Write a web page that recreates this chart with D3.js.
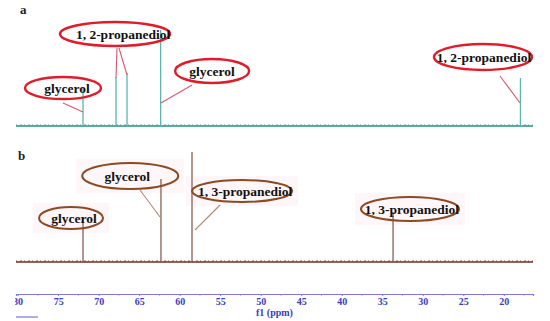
<!DOCTYPE html>
<html>
<head>
<meta charset="utf-8">
<script src="https://cdn.jsdelivr.net/npm/d3@7"></script>
<style>
  body { margin: 0; background: #fff; }
  svg { display: block; }
  .lbl { font-family: "Liberation Serif", serif; font-weight: bold; font-size: 13.5px; fill: #111; }
  .panel { font-family: "Liberation Serif", serif; font-weight: bold; font-size: 13px; fill: #222; }
  .tick text { font-family: "Liberation Serif", serif; font-weight: bold; font-size: 10px; fill: #3b3bc4; }
</style>
</head>
<body>
<div id="chart"></div>
<script>
// peaks, ppm and height (arbitrary units)
const peaksA = [
  { ppm: 71.93, h: 38 },
  { ppm: 67.86, h: 49 },
  { ppm: 66.50, h: 53 },
  { ppm: 62.35, h: 96 },
  { ppm: 17.95, h: 48 }
];
const peaksB = [
  { ppm: 71.93, h: 45 },
  { ppm: 62.31, h: 83 },
  { ppm: 58.48, h: 110 },
  { ppm: 33.67, h: 50 }
];
const majorTicks = [80, 75, 70, 65, 60, 55, 50, 45, 40, 35, 30, 25, 20];
const minorTicks = [77.5, 72.5, 67.5, 62.5, 57.5, 52.5, 47.5, 42.5, 37.5, 32.5, 27.5, 22.5, 17.5];

// callouts: ellipse centre in data units, pointer lines from/to in data units
const notesA = [
  { text: "1, 2-propanediol", ppm: 67.98, h: 92, rx: 55, ry: 12, dx: 8,
    ptr: [[67.74, 78, 67.86, 48], [67.49, 78, 66.50, 51]] },
  { text: "glycerol", ppm: 74.4, h: 38, rx: 38, ry: 11, dx: 4,
    ptr: [[74.40, 23, 71.93, 14]] },
  { text: "glycerol", ppm: 56.0, h: 55, rx: 37, ry: 12, dx: 0,
    ptr: [[58.48, 41, 62.31, 23]] },
  { text: "1, 2-propanediol", ppm: 22.57, h: 69, rx: 49, ry: 13, dx: 1,
    ptr: [[20.47, 50, 18.00, 23]] }
];
const notesB = [
  { text: "glycerol", ppm: 73.41, h: 44, rx: 32, ry: 11, dx: 3, ptr: [] },
  { text: "glycerol", ppm: 66.1, h: 86, rx: 48, ry: 13, dx: -3,
    ptr: [[64.90, 72, 62.43, 45]] },
  { text: "1, 3-propanediol", ppm: 52.3, h: 71, rx: 50, ry: 11, dx: 3,
    ptr: [[55.02, 57, 58.11, 32]] },
  { text: "1, 3-propanediol", ppm: 31.58, h: 53, rx: 49, ry: 12, dx: 2, ptr: [] }
];

const W = 550, H = 321;
const svg = d3.select("#chart").append("svg")
  .attr("width", W)
  .attr("height", H);

svg.append("clipPath").attr("id", "clip")
  .append("rect").attr("x", 15).attr("y", 0).attr("width", W).attr("height", H);

const x = d3.scaleLinear().domain([80.2, 16.4]).range([16, 533]);
const yA = d3.scaleLinear().domain([0, 100]).range([126, 26]);
const yB = d3.scaleLinear().domain([0, 100]).range([262, 162]);

function drawPanel(peaks, notes, y, c) {
  const g = svg.append("g");

  // faint pink patches behind the labels (only panel b has them)
  if (c.patch) {
    g.selectAll(".patch").data(notes).enter().append("rect")
      .attr("x", d => x(d.ppm) - d.rx - 6)
      .attr("y", d => y(d.h) - d.ry - 4)
      .attr("width", d => d.rx * 2 + 12)
      .attr("height", d => d.ry * 2 + 8)
      .attr("fill", c.patch);
  }

  // baseline with a bit of texture
  g.append("line")
    .attr("x1", x.range()[0]).attr("x2", x.range()[1])
    .attr("y1", y(0)).attr("y2", y(0))
    .attr("stroke", c.base).attr("stroke-width", 1.6);
  g.append("line")
    .attr("x1", x.range()[0]).attr("x2", x.range()[1])
    .attr("y1", y(0) - 1).attr("y2", y(0) - 1)
    .attr("stroke", c.base).attr("stroke-width", 0.8)
    .attr("stroke-dasharray", "1,3,2,2");

  g.selectAll(".peak").data(peaks).enter().append("line")
    .attr("x1", d => x(d.ppm)).attr("x2", d => x(d.ppm))
    .attr("y1", y(0)).attr("y2", d => y(d.h))
    .attr("stroke", c.peak).attr("stroke-width", 1.3);

  notes.forEach(n => {
    n.ptr.forEach(p => {
      g.append("line")
        .attr("x1", x(p[0])).attr("y1", y(p[1]))
        .attr("x2", x(p[2])).attr("y2", y(p[3]))
        .attr("stroke", c.ptr).attr("stroke-width", 1.1);
    });
  });

  g.selectAll(".ell").data(notes).enter().append("ellipse")
    .attr("cx", d => x(d.ppm)).attr("cy", d => y(d.h))
    .attr("rx", d => d.rx).attr("ry", d => d.ry)
    .attr("fill", "none").attr("stroke", c.ring).attr("stroke-width", c.ringW);

  g.selectAll(".lbl").data(notes).enter().append("text")
    .attr("class", "lbl")
    .attr("x", d => x(d.ppm) + d.dx).attr("y", d => y(d.h) + 4.5)
    .attr("text-anchor", "middle")
    .text(d => d.text);
}

drawPanel(peaksA, notesA, yA, {
  base: "#2b8f80", peak: "#5fb3b0", ptr: "#d65a72", ring: "#e01c2a", ringW: 2.4
});
drawPanel(peaksB, notesB, yB, {
  base: "#6e2c22", peak: "#8c5f55", ptr: "#b08878", ring: "#8a4a22", ringW: 2,
  patch: "#fef6f8"
});

svg.append("text").attr("class", "panel").attr("x", 20).attr("y", 14).text("a");
svg.append("text").attr("class", "panel").attr("x", 18).attr("y", 160).text("b");

// ppm axis
const axisG = svg.append("g")
  .attr("transform", "translate(0,294)")
  .attr("clip-path", "url(#clip)");
axisG.call(d3.axisBottom(x).tickValues(majorTicks).tickSize(2).tickPadding(2).tickFormat(d3.format("d")));
axisG.select(".domain").attr("stroke", "#7b7bd8").attr("stroke-width", 1.2);
axisG.selectAll(".tick line").attr("stroke", "#7b7bd8").attr("y1", -2);
axisG.selectAll(".minor").data(minorTicks).enter().append("line")
  .attr("x1", d => x(d)).attr("x2", d => x(d))
  .attr("y1", -2).attr("y2", 1.5)
  .attr("stroke", "#7b7bd8");

svg.append("text")
  .attr("x", 256).attr("y", 316)
  .attr("font-family", "Liberation Serif, serif")
  .attr("font-weight", "bold").attr("font-size", 10)
  .attr("fill", "#3b3bc4")
  .text("f1 (ppm)");

svg.append("line")
  .attr("x1", 16).attr("x2", 38).attr("y1", 317).attr("y2", 317)
  .attr("stroke", "#5a5ad0").attr("stroke-width", 1);
</script>
</body>
</html>
